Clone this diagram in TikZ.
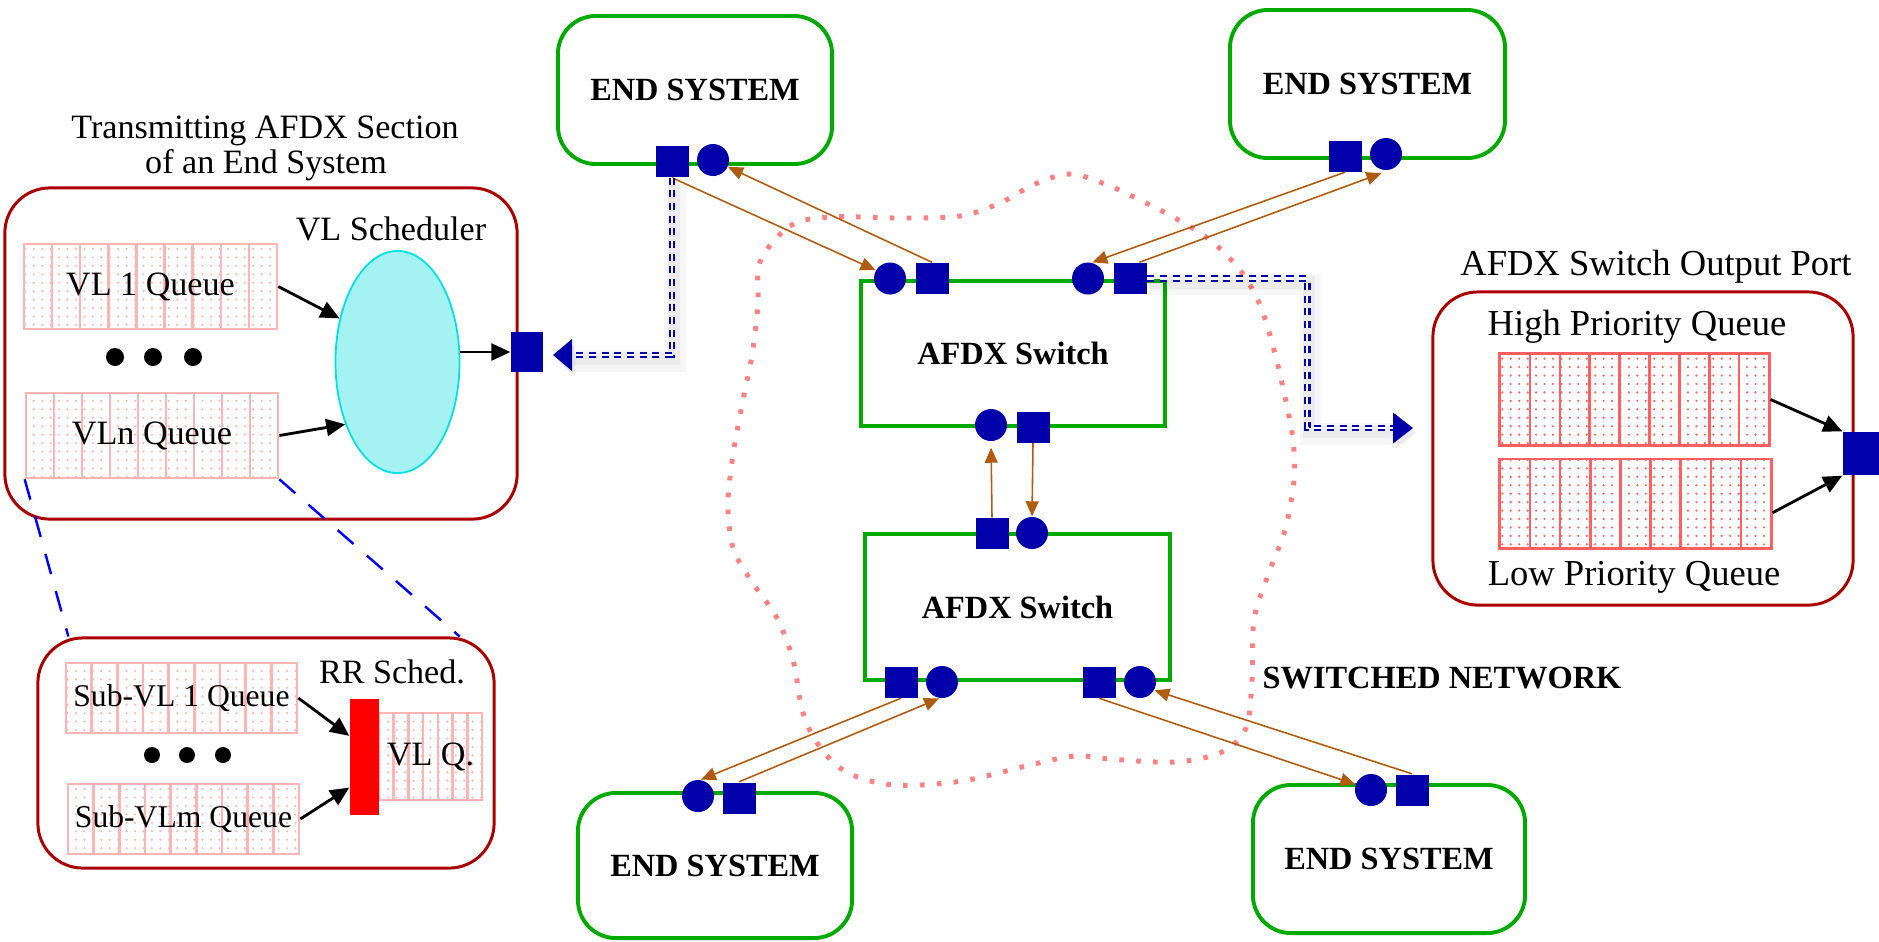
\documentclass[tikz,border=0pt]{standalone}
\usepackage{fontspec}
\setmainfont{Liberation Serif}
\usetikzlibrary{arrows.meta,shapes.geometric,patterns.meta,calc}

\definecolor{esgreen}{RGB}{0,170,0}
\definecolor{boxred}{RGB}{170,0,0}
\definecolor{portblue}{RGB}{0,0,170}
\definecolor{linkbrown}{RGB}{176,92,16}
\definecolor{netpink}{RGB}{255,128,128}
\definecolor{qpink}{RGB}{255,180,180}
\definecolor{qred}{RGB}{255,95,95}
\definecolor{schedcyan}{RGB}{0,225,225}
\definecolor{schedfill}{RGB}{165,242,242}
\definecolor{zoomblue}{RGB}{0,0,255}
\definecolor{barred}{RGB}{255,0,0}

% small dot grid used inside the queue cells
\tikzdeclarepattern{
  name=qdots, type=uncolored,
  bounding box={(-1.2pt,-1.2pt) and (1.2pt,1.2pt)},
  tile size={(2.4pt,2.4pt)},
  code={\pgfpathcircle{\pgfpointorigin}{0.34pt}\pgfusepath{fill}}
}

\tikzset{
  lbl/.style={font=\fontsize{9.7}{10}\selectfont, inner sep=0pt},
  lblr/.style={font=\fontsize{10.4}{11}\selectfont, inner sep=0pt},
  boldlbl/.style={font=\bfseries\fontsize{9.2}{10}\selectfont, inner sep=0pt},
  es/.style={draw=esgreen, line width=1.1pt, fill=white, rounded corners=0.38cm,
    minimum width=2.74cm, minimum height=1.48cm, inner sep=0pt,
    font=\bfseries\fontsize{9.2}{10}\selectfont},
  switchbox/.style={draw=esgreen, line width=1.1pt, fill=white,
    minimum width=3.04cm, minimum height=1.45cm, inner sep=0pt,
    font=\bfseries\fontsize{9.2}{10}\selectfont},
  section/.style={draw=boxred, line width=0.85pt, rounded corners=0.45cm, inner sep=0pt},
  sq/.style={fill=portblue, minimum width=0.33cm, minimum height=0.31cm, inner sep=0pt},
  ci/.style={ellipse, fill=portblue, minimum width=0.32cm, minimum height=0.32cm, inner sep=0pt},
  queue/.style 2 args={draw=#2, line width=0.7pt, pattern=qdots, pattern color=#2,
    inner sep=0pt, font=\fontsize{9.7}{10}\selectfont,
    path picture={\pgfmathtruncatemacro\qlast{#1-1}
      \foreach \k in {1,...,\qlast}{
        \draw[#2, line width=0.7pt]
          ($(path picture bounding box.south west)!\k/#1!(path picture bounding box.south east)$) --
          ($(path picture bounding box.north west)!\k/#1!(path picture bounding box.north east)$);}}},
  link/.style={draw=linkbrown, line width=0.45pt, -{Triangle[length=0.15cm,width=0.13cm]}},
  blk/.style={draw=black, line width=0.8pt, -{Triangle[length=0.19cm,width=0.17cm]}},
  zoomline/.style={draw=zoomblue, line width=0.7pt, dash pattern=on 6pt off 5pt},
  netline/.style={draw=netpink, line width=1.4pt, dash pattern=on 1.3pt off 3.5pt},
  dbl/.style={draw=portblue, line width=0.68pt, double=white, double distance=0.6pt,
    dash pattern=on 2pt off 1.6pt},
  softA/.style={draw=black, line width=6pt, opacity=0.035},
  softB/.style={draw=black, line width=3.5pt, opacity=0.045},
  tipshadow/.style={fill=black, opacity=0.08}
}

\begin{document}
\begin{tikzpicture}[x=0.01cm, y=-0.01cm]
\useasboundingbox (0,0) rectangle (1879,941);

% ---------- boundary of the switched network ----------
\draw[netline] plot[smooth cycle, tension=0.55] coordinates {
  (760,262) (790,226) (830,217) (900,218) (960,216) (1000,203) (1035,184)
  (1070,174) (1105,184) (1140,200) (1175,218) (1210,240) (1240,270) (1260,305)
  (1274,350) (1285,397) (1293,440) (1294,480) (1285,530) (1268,575) (1254,620)
  (1252,680) (1246,728) (1222,752) (1175,762) (1110,759) (1075,756) (1030,765)
  (962,781) (895,785) (848,773) (820,747) (803,713) (793,660) (777,618)
  (752,582) (733,548) (728,503) (733,455) (742,405) (752,355) (758,305)};

% ---------- transmitting section of an end system ----------
\node[section, minimum width=5.12cm, minimum height=3.31cm] (txsec) at (261,353.5) {};
\node[lbl, anchor=base] (ttl1) at (265,138) {Transmitting AFDX Section};
\node[lbl, anchor=base] (ttl2) at (266,173) {of an End System};
\node[queue={9}{qpink}, minimum width=2.53cm, minimum height=0.85cm] (vl1) at (150.5,286.5) {VL 1 Queue};
\node[queue={9}{qpink}, minimum width=2.52cm, minimum height=0.85cm] (vln) at (152,435.5) {VLn Queue};
\foreach \x in {115,153,193} \fill (\x,357) circle[radius=0.09cm];
\node[lbl, anchor=base] (schedlbl) at (391,240) {VL Scheduler};
\node[ellipse, draw=schedcyan, line width=0.5pt, fill=schedfill,
      minimum width=1.24cm, minimum height=2.22cm] (sched) at (397.5,362) {};
\node[sq, minimum width=0.32cm, minimum height=0.40cm] (esq) at (527,352) {};
\draw[blk] (vl1.east) -- (sched.143);
\draw[blk] (vln.east) -- (sched.230);
\draw[blk] (sched.east |- esq.west) -- (esq.west);

% ---------- round-robin detail of a VL queue ----------
\node[section, minimum width=4.56cm, minimum height=2.30cm] (rrbox) at (266,753) {};
\node[queue={9}{qpink}, minimum width=2.31cm, minimum height=0.70cm,
      font=\fontsize{9}{10}\selectfont] (sub1) at (181.5,698) {Sub-VL 1 Queue};
\node[queue={9}{qpink}, minimum width=2.31cm, minimum height=0.70cm,
      font=\fontsize{9}{10}\selectfont] (subm) at (183.5,819) {Sub-VLm Queue};
\foreach \x in {152,187,223} \fill (\x,755) circle[radius=0.08cm];
\node[queue={7}{qpink}, minimum width=1.03cm, minimum height=0.87cm] (vlq) at (430.5,756.5) {VL Q.};
\node[fill=barred, minimum width=0.29cm, minimum height=1.16cm] (rrbar) at (364.5,757) {};
\node[lbl, anchor=base] (rrlbl) at (392,683) {RR Sched.};
\draw[blk] (sub1.east) -- ($(rrbar.north west)!0.32!(rrbar.south west)$);
\draw[blk] (subm.east) -- ($(rrbar.north west)!0.76!(rrbar.south west)$);
\draw[zoomline] (vln.south west) -- ($(rrbox.north west)+(32,0)$);
\draw[zoomline] (vln.south east) -- ($(rrbox.north east)+(-36,0)$);

% ---------- end systems and switches ----------
\node[es] (esTL) at (695,90) {END SYSTEM};
\node[es, minimum width=2.75cm] (esTR) at (1367.5,84) {END SYSTEM};
\node[es, minimum height=1.45cm] (esBL) at (715,865.5) {END SYSTEM};
\node[es, minimum width=2.72cm] (esBR) at (1389,859) {END SYSTEM};
\node[switchbox] (sw1) at (1013,353.5) {AFDX Switch};
\node[switchbox, minimum height=1.46cm] (sw2) at (1017.5,607) {AFDX Switch};
\node[boldlbl, anchor=base west] (swnet) at (1262,688) {SWITCHED NETWORK};

% ports: square = transmit, circle = receive
\node[sq] (tlS) at (672,161.5) {};
\node[ci] (tlC) at (713,160) {};
\node[sq] (trS) at (1345,156) {};
\node[ci] (trC) at (1386,154) {};
\node[ci] (s1c1) at (890,278.5) {};
\node[sq] (s1s1) at (932,278.5) {};
\node[ci] (s1c2) at (1088,278.5) {};
\node[sq] (s1s2) at (1130,278.5) {};
\node[ci] (s1cB) at (991,425) {};
\node[sq] (s1sB) at (1033,427) {};
\node[sq] (s2sT) at (992,533.5) {};
\node[ci] (s2cT) at (1032,533) {};
\node[sq] (s2sL) at (901,682) {};
\node[ci] (s2cL) at (942,682) {};
\node[sq] (s2sR) at (1099,682) {};
\node[ci] (s2cR) at (1140,682) {};
\node[ci] (blC) at (698,796) {};
\node[sq] (blS) at (739,798) {};
\node[ci] (brC) at (1371,790) {};
\node[sq] (brS) at (1412,790) {};

% full-duplex links
\draw[link] (tlS.south) -- (s1c1.150);
\draw[link] (s1s1.north) -- (tlC.-25);
\draw[link] (trS.south) -- (s1c2.75);
\draw[link, shorten >=0.08cm] (s1s2.60) -- (trC.-80);
\draw[link, shorten >=0.06cm] (s2sT.north) -- (s1cB.south);
\draw[link] (s1sB.south) -- (s2cT.north);
\draw[link] (s2sL.south) -- (blC.80);
\draw[link] (blS.north) -- (s2cL.-100);
\draw[link] (s2sR.south) -- (brC.160);
\draw[link] (brS.north) -- (s2cR.-30);

% ---------- detail call-outs ----------
\coordinate (lbase) at (572,355);
\coordinate (ltip) at (553,355);
\draw[softA] ([shift={(3,6)}]tlS.south) |- ([shift={(3,6)}]lbase);
\draw[softB] ([shift={(2,4)}]tlS.south) |- ([shift={(2,4)}]lbase);
\draw[dbl] (tlS.south) |- (lbase);
\fill[tipshadow] ($(lbase)+(3,-11)$) -- ($(ltip)+(3,5)$) -- ($(lbase)+(3,21)$) -- cycle;
\fill[portblue] ($(lbase)+(0,-16)$) -- (ltip) -- ($(lbase)+(0,16)$) -- cycle;

\coordinate (rbase) at (1393,428);
\coordinate (rtip) at (1413,428);
\draw[softA] ([shift={(3,6)}]s1s2.east) -- ++(160,0) |- ([shift={(3,6)}]rbase);
\draw[softB] ([shift={(2,4)}]s1s2.east) -- ++(160,0) |- ([shift={(2,4)}]rbase);
\draw[dbl] (s1s2.east) -- ++(160,0) |- (rbase);
\fill[tipshadow] ($(rbase)+(3,-10)$) -- ($(rtip)+(3,5)$) -- ($(rbase)+(3,20)$) -- cycle;
\fill[portblue] ($(rbase)+(0,-15.5)$) -- (rtip) -- ($(rbase)+(0,15.5)$) -- cycle;

% ---------- switch output port ----------
\node[section, minimum width=4.20cm, minimum height=3.13cm] (outbox) at (1643,448.5) {};
\node[lblr, anchor=base] (outlbl) at (1656,275) {AFDX Switch Output Port};
\node[lblr, anchor=base] (hqlbl) at (1637,335) {High Priority Queue};
\node[queue={9}{qred}, line width=0.85pt, minimum width=2.69cm, minimum height=0.91cm] (hq) at (1634.5,399.5) {};
\node[queue={9}{qred}, line width=0.85pt, minimum width=2.71cm, minimum height=0.89cm] (lq) at (1635.5,503.5) {};
\node[lblr, anchor=base] (lqlbl) at (1634,585) {Low Priority Queue};
\node[sq, minimum width=0.36cm, minimum height=0.43cm] (osq) at (1861,453.5) {};
\draw[blk] (hq.east) -- (osq.north west);
\draw[blk] ($(lq.north east)!0.6!(lq.south east)$) -- (osq.south west);

\end{tikzpicture}
\end{document}
